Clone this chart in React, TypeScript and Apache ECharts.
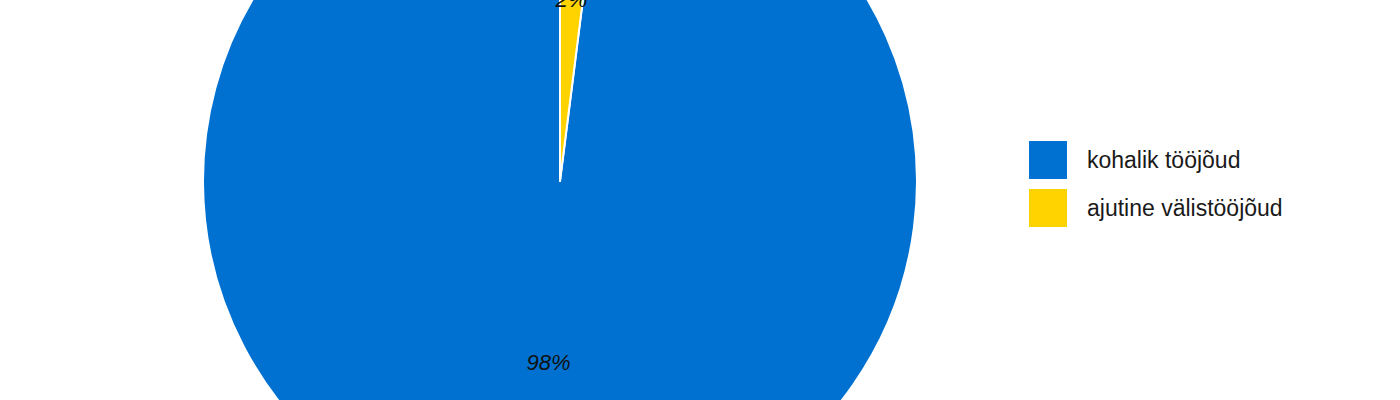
import { useRef, useEffect } from 'react'
import * as echarts from 'echarts'

const categories = ['kohalik tööjõud', 'ajutine välistööjõud']
const shares = [98, 2]
const colors = ['#0071D0', '#FFD300']

export default function App() {
  const chartRef = useRef<HTMLDivElement>(null)

  useEffect(() => {
    document.body.style.margin = '0'
    if (!chartRef.current) return
    const instance = echarts.init(chartRef.current, undefined, { renderer: 'svg' })

    instance.setOption({
      animation: false,
      textStyle: { fontFamily: 'Liberation Sans, Arial, sans-serif' },
      legend: {
        orient: 'vertical',
        left: 1027,
        top: 139,
        padding: 0,
        itemWidth: 40,
        itemHeight: 40,
        itemGap: 6,
        icon: 'rect',
        data: categories,
        textStyle: {
          fontSize: 23,
          color: '#1a1a1a',
          padding: [0, 0, 0, 14],
          fontFamily: 'Liberation Sans, Arial, sans-serif',
        },
      },
      series: [
        {
          type: 'pie',
          center: [560, 181],
          radius: 357,
          startAngle: 90,
          clockwise: false,
          label: {
            show: true,
            position: 'inside',
            formatter: (p: any) => `${p.value}%`,
            fontSize: 22,
            fontStyle: 'italic',
            color: '#111',
            fontFamily: 'Liberation Sans, Arial, sans-serif',
          },
          labelLine: { show: false },
          emphasis: { disabled: true },
          itemStyle: { borderColor: '#fff', borderWidth: 2 },
          data: categories.map((name, i) => ({
            name,
            value: shares[i],
            itemStyle: { color: colors[i] },
          })),
        },
      ],
    })

    return () => {
      instance.dispose()
    }
  }, [])

  return <div ref={chartRef} style={{ width: 1400, height: 400 }} />
}
